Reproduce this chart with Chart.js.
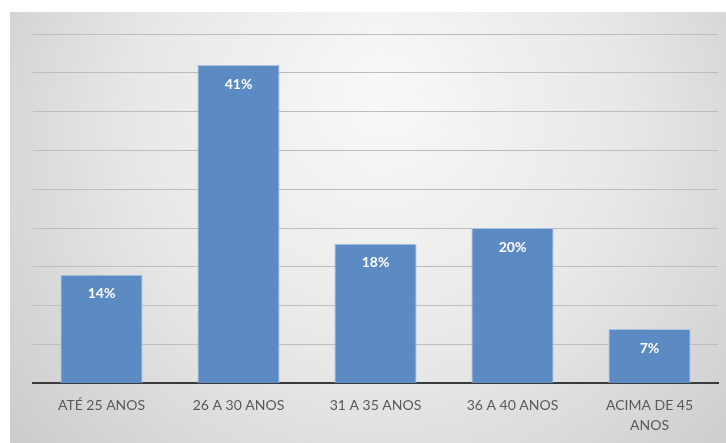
<!DOCTYPE html>
<html>
<head>
<meta charset="utf-8">
<script src="https://cdn.jsdelivr.net/npm/chart.js@4"></script>
<style>
  html, body { margin:0; padding:0; background:#fff; }
  #wrap { width:726px; height:443px; position:relative; }
</style>
</head>
<body>
<div id="wrap"><canvas id="chart" width="726" height="443"></canvas></div>
<script>
const categories = ['ATÉ 25 ANOS', '26 A 30 ANOS', '31 A 35 ANOS', '36 A 40 ANOS', ['ACIMA DE 45', 'ANOS']];
const values = [14, 41, 18, 20, 7];
const yMax = 45, yStep = 5;

// background: white strip + grey radial panel
const panelBg = {
  id:'panelBg',
  beforeDraw(chart) {
    const ctx = chart.ctx, w = chart.width, h = chart.height;
    ctx.save();
    ctx.fillStyle = '#fff';
    ctx.fillRect(0, 0, w, h);
    const g = ctx.createRadialGradient(380, 90, 20, 380, 160, 460);
    g.addColorStop(0, '#f7f7f7');
    g.addColorStop(0.5, '#e8e8e8');
    g.addColorStop(1, '#cccccc');
    ctx.fillStyle = g;
    ctx.fillRect(10, 12, w - 10, h - 12);
    ctx.restore();
  }
};

// white value labels inside the bars
const barLabels = {
  id:'barLabels',
  afterDatasetsDraw(chart) {
    const ctx = chart.ctx;
    const meta = chart.getDatasetMeta(0);
    ctx.save();
    ctx.fillStyle = '#fff';
    ctx.font = 'bold 14px Lato';
    ctx.textAlign = 'center';
    ctx.textBaseline = 'middle';
    meta.data.forEach((bar, i) => {
      ctx.fillText(values[i] + '%', bar.x, bar.y + 19);
    });
    ctx.restore();
  }
};

new Chart(document.getElementById('chart').getContext('2d'), {
  type:'bar',
  data:{ labels:categories, datasets:[{
    data:values, backgroundColor:'#5c8ac3', borderColor:'#a9c3e6', borderWidth:1,
    barPercentage:0.6, categoryPercentage:1
  }]},
  options:{
    responsive:false, animation:false,
    layout:{ padding:{ left:33, right:8, top:34, bottom:3 } },
    plugins:{ legend:{ display:false }, tooltip:{ enabled:false } },
    scales:{
      x:{
        grid:{ display:false },
        border:{ color:'#3a3a3a', width:2 },
        ticks:{ color:'#595959', font:{ family:'Lato', size:14, lineHeight:1.45 }, padding:4, maxRotation:0 }
      },
      y:{
        min:0, max:yMax,
        ticks:{ display:false, stepSize:yStep },
        grid:{ color:'#bdbdbd', lineWidth:1, drawTicks:false },
        border:{ display:false }
      }
    }
  },
  plugins:[panelBg, barLabels]
});
</script>
</body>
</html>
